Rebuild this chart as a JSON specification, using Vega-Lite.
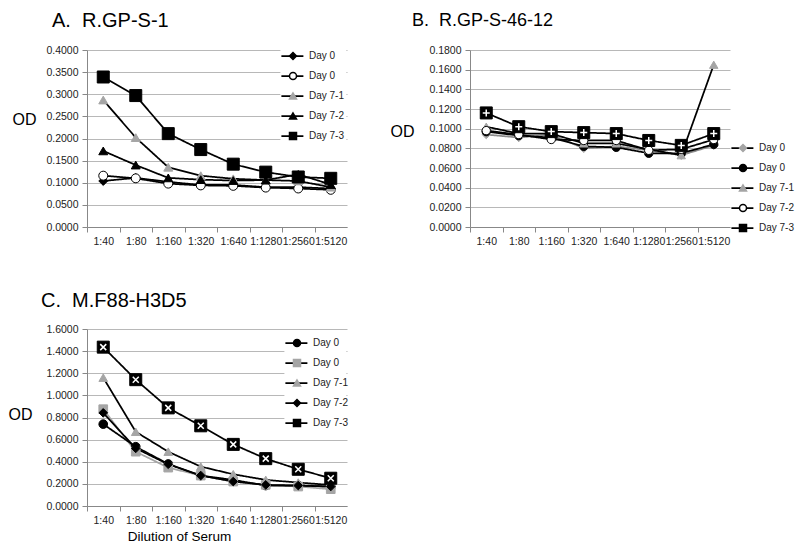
{
  "$schema": "https://vega.github.io/schema/vega-lite/v6.json",
  "padding": {"left": 8, "top": 11, "right": 2, "bottom": 2},
  "config": {
    "view": {"stroke": null},
    "font": "Liberation Sans",
    "title": {"font": "Liberation Sans", "fontWeight": "normal", "anchor": "start", "frame": "group", "baseline": "alphabetic", "color": "#000"},
    "axis": {"labelFont": "Liberation Sans", "labelFontSize": 10.5, "labelColor": "#222", "domainColor": "#888", "tickColor": "#888", "gridColor": "#b8b8b8", "titleFont": "Liberation Sans", "titleFontWeight": "normal", "titleColor": "#000"},
    "axisX": {"grid": false, "tickSize": 5, "labelPadding": 4, "labelAngle": 0, "labelOverlap": false, "labelFlush": false, "labelBound": false, "tickOffset": -16.25, "labelOffset": 16.25},
    "axisY": {"grid": true, "tickSize": 5, "labelPadding": 4, "titleAngle": 0, "titleAlign": "right", "titleBaseline": "middle", "titleFontSize": 16, "format": ".4f"},
    "legend": {"labelFont": "Liberation Sans", "labelFontSize": 10, "labelColor": "#222", "symbolSize": 49, "symbolStrokeWidth": 1.5, "labelOffset": 11, "rowPadding": 0, "clipHeight": 20, "padding": 0}
  },
  "data": {"values": [
    {"p":"A","s":"Day 0","d":"1:40","v":0.104},{"p":"A","s":"Day 0","d":"1:80","v":0.111},{"p":"A","s":"Day 0","d":"1:160","v":0.102},{"p":"A","s":"Day 0","d":"1:320","v":0.095},{"p":"A","s":"Day 0","d":"1:640","v":0.095},{"p":"A","s":"Day 0","d":"1:1280","v":0.090},{"p":"A","s":"Day 0","d":"1:2560","v":0.090},{"p":"A","s":"Day 0","d":"1:5120","v":0.087},
    {"p":"A","s":"Day 0 (2)","d":"1:40","v":0.116},{"p":"A","s":"Day 0 (2)","d":"1:80","v":0.110},{"p":"A","s":"Day 0 (2)","d":"1:160","v":0.098},{"p":"A","s":"Day 0 (2)","d":"1:320","v":0.094},{"p":"A","s":"Day 0 (2)","d":"1:640","v":0.093},{"p":"A","s":"Day 0 (2)","d":"1:1280","v":0.089},{"p":"A","s":"Day 0 (2)","d":"1:2560","v":0.087},{"p":"A","s":"Day 0 (2)","d":"1:5120","v":0.084},
    {"p":"A","s":"Day 7-1","d":"1:40","v":0.287},{"p":"A","s":"Day 7-1","d":"1:80","v":0.202},{"p":"A","s":"Day 7-1","d":"1:160","v":0.135},{"p":"A","s":"Day 7-1","d":"1:320","v":0.116},{"p":"A","s":"Day 7-1","d":"1:640","v":0.109},{"p":"A","s":"Day 7-1","d":"1:1280","v":0.106},{"p":"A","s":"Day 7-1","d":"1:2560","v":0.104},{"p":"A","s":"Day 7-1","d":"1:5120","v":0.090},
    {"p":"A","s":"Day 7-2","d":"1:40","v":0.172},{"p":"A","s":"Day 7-2","d":"1:80","v":0.140},{"p":"A","s":"Day 7-2","d":"1:160","v":0.111},{"p":"A","s":"Day 7-2","d":"1:320","v":0.107},{"p":"A","s":"Day 7-2","d":"1:640","v":0.105},{"p":"A","s":"Day 7-2","d":"1:1280","v":0.106},{"p":"A","s":"Day 7-2","d":"1:2560","v":0.119},{"p":"A","s":"Day 7-2","d":"1:5120","v":0.096},
    {"p":"A","s":"Day 7-3","d":"1:40","v":0.339},{"p":"A","s":"Day 7-3","d":"1:80","v":0.297},{"p":"A","s":"Day 7-3","d":"1:160","v":0.211},{"p":"A","s":"Day 7-3","d":"1:320","v":0.175},{"p":"A","s":"Day 7-3","d":"1:640","v":0.142},{"p":"A","s":"Day 7-3","d":"1:1280","v":0.124},{"p":"A","s":"Day 7-3","d":"1:2560","v":0.113},{"p":"A","s":"Day 7-3","d":"1:5120","v":0.110},
    {"p":"B","s":"Day 0","d":"1:40","v":0.094},{"p":"B","s":"Day 0","d":"1:80","v":0.091},{"p":"B","s":"Day 0","d":"1:160","v":0.094},{"p":"B","s":"Day 0","d":"1:320","v":0.080},{"p":"B","s":"Day 0","d":"1:640","v":0.082},{"p":"B","s":"Day 0","d":"1:1280","v":0.078},{"p":"B","s":"Day 0","d":"1:2560","v":0.073},{"p":"B","s":"Day 0","d":"1:5120","v":0.083},
    {"p":"B","s":"Day 0 (2)","d":"1:40","v":0.097},{"p":"B","s":"Day 0 (2)","d":"1:80","v":0.093},{"p":"B","s":"Day 0 (2)","d":"1:160","v":0.091},{"p":"B","s":"Day 0 (2)","d":"1:320","v":0.082},{"p":"B","s":"Day 0 (2)","d":"1:640","v":0.081},{"p":"B","s":"Day 0 (2)","d":"1:1280","v":0.075},{"p":"B","s":"Day 0 (2)","d":"1:2560","v":0.075},{"p":"B","s":"Day 0 (2)","d":"1:5120","v":0.084},
    {"p":"B","s":"Day 7-1","d":"1:40","v":0.102},{"p":"B","s":"Day 7-1","d":"1:80","v":0.095},{"p":"B","s":"Day 7-1","d":"1:160","v":0.095},{"p":"B","s":"Day 7-1","d":"1:320","v":0.085},{"p":"B","s":"Day 7-1","d":"1:640","v":0.085},{"p":"B","s":"Day 7-1","d":"1:1280","v":0.079},{"p":"B","s":"Day 7-1","d":"1:2560","v":0.073},{"p":"B","s":"Day 7-1","d":"1:5120","v":0.165},
    {"p":"B","s":"Day 7-2","d":"1:40","v":0.098},{"p":"B","s":"Day 7-2","d":"1:80","v":0.094},{"p":"B","s":"Day 7-2","d":"1:160","v":0.089},{"p":"B","s":"Day 7-2","d":"1:320","v":0.088},{"p":"B","s":"Day 7-2","d":"1:640","v":0.088},{"p":"B","s":"Day 7-2","d":"1:1280","v":0.078},{"p":"B","s":"Day 7-2","d":"1:2560","v":0.079},{"p":"B","s":"Day 7-2","d":"1:5120","v":0.089},
    {"p":"B","s":"Day 7-3","d":"1:40","v":0.116},{"p":"B","s":"Day 7-3","d":"1:80","v":0.102},{"p":"B","s":"Day 7-3","d":"1:160","v":0.097},{"p":"B","s":"Day 7-3","d":"1:320","v":0.096},{"p":"B","s":"Day 7-3","d":"1:640","v":0.095},{"p":"B","s":"Day 7-3","d":"1:1280","v":0.088},{"p":"B","s":"Day 7-3","d":"1:2560","v":0.083},{"p":"B","s":"Day 7-3","d":"1:5120","v":0.095},
    {"p":"C","s":"Day 0","d":"1:40","v":0.740},{"p":"C","s":"Day 0","d":"1:80","v":0.536},{"p":"C","s":"Day 0","d":"1:160","v":0.380},{"p":"C","s":"Day 0","d":"1:320","v":0.275},{"p":"C","s":"Day 0","d":"1:640","v":0.236},{"p":"C","s":"Day 0","d":"1:1280","v":0.185},{"p":"C","s":"Day 0","d":"1:2560","v":0.185},{"p":"C","s":"Day 0","d":"1:5120","v":0.175},
    {"p":"C","s":"Day 0 (2)","d":"1:40","v":0.875},{"p":"C","s":"Day 0 (2)","d":"1:80","v":0.491},{"p":"C","s":"Day 0 (2)","d":"1:160","v":0.347},{"p":"C","s":"Day 0 (2)","d":"1:320","v":0.275},{"p":"C","s":"Day 0 (2)","d":"1:640","v":0.221},{"p":"C","s":"Day 0 (2)","d":"1:1280","v":0.191},{"p":"C","s":"Day 0 (2)","d":"1:2560","v":0.176},{"p":"C","s":"Day 0 (2)","d":"1:5120","v":0.152},
    {"p":"C","s":"Day 7-1","d":"1:40","v":1.160},{"p":"C","s":"Day 7-1","d":"1:80","v":0.671},{"p":"C","s":"Day 7-1","d":"1:160","v":0.491},{"p":"C","s":"Day 7-1","d":"1:320","v":0.356},{"p":"C","s":"Day 7-1","d":"1:640","v":0.287},{"p":"C","s":"Day 7-1","d":"1:1280","v":0.236},{"p":"C","s":"Day 7-1","d":"1:2560","v":0.212},{"p":"C","s":"Day 7-1","d":"1:5120","v":0.190},
    {"p":"C","s":"Day 7-2","d":"1:40","v":0.842},{"p":"C","s":"Day 7-2","d":"1:80","v":0.521},{"p":"C","s":"Day 7-2","d":"1:160","v":0.377},{"p":"C","s":"Day 7-2","d":"1:320","v":0.275},{"p":"C","s":"Day 7-2","d":"1:640","v":0.221},{"p":"C","s":"Day 7-2","d":"1:1280","v":0.191},{"p":"C","s":"Day 7-2","d":"1:2560","v":0.185},{"p":"C","s":"Day 7-2","d":"1:5120","v":0.176},
    {"p":"C","s":"Day 7-3","d":"1:40","v":1.436},{"p":"C","s":"Day 7-3","d":"1:80","v":1.142},{"p":"C","s":"Day 7-3","d":"1:160","v":0.887},{"p":"C","s":"Day 7-3","d":"1:320","v":0.725},{"p":"C","s":"Day 7-3","d":"1:640","v":0.557},{"p":"C","s":"Day 7-3","d":"1:1280","v":0.428},{"p":"C","s":"Day 7-3","d":"1:2560","v":0.332},{"p":"C","s":"Day 7-3","d":"1:5120","v":0.251}
  ]},
  "spacing": 44,
  "resolve": {"scale": {"fill": "independent", "stroke": "independent", "shape": "independent", "strokeDash": "independent"}, "legend": {"fill": "independent", "stroke": "independent", "shape": "independent", "strokeDash": "independent"}},
  "vconcat": [
    {
      "spacing": 43,
      "resolve": {"scale": {"fill": "independent", "stroke": "independent", "shape": "independent", "strokeDash": "independent"}, "legend": {"fill": "independent", "stroke": "independent", "shape": "independent", "strokeDash": "independent"}},
      "hconcat": [
        {
          "width": 260, "height": 177,
          "title": {"text": "A.\u00a0\u00a0R.GP-S-1", "fontSize": 20, "dx": -35, "offset": 14},
          "transform": [{"filter": "datum.p == 'A'"}],
          "encoding": {
            "x": {"field": "d", "type": "ordinal", "sort": ["1:40","1:80","1:160","1:320","1:640","1:1280","1:2560","1:5120"], "scale": {"type": "point", "padding": 0.5}, "axis": {"title": null}},
            "y": {"field": "v", "type": "quantitative", "scale": {"domain": [0, 0.4]}, "axis": {"values": [0,0.05,0.1,0.15,0.2,0.25,0.3,0.35,0.4], "title": "OD", "titleX": -51, "titleY": 69}}
          },
          "layer": [
            {"mark": {"type": "line", "strokeWidth": 1.75, "color": "#000"},
             "encoding": {"detail": {"field": "s", "type": "nominal"},
               "strokeDash": {"field": "s", "type": "nominal", "scale": {"domain": ["Day 0","Day 0 (2)","Day 7-1","Day 7-2","Day 7-3","~"], "range": [[1,0],[1,0],[1,0],[1,0],[1,0],[1,0]]},
                 "legend": {"title": null, "orient": "none", "legendX": 193.4, "legendY": -4, "values": ["Day 0","Day 0 (2)","Day 7-1","Day 7-2","Day 7-3"], "symbolType": "stroke", "symbolSize": 484, "symbolStrokeColor": "#000", "symbolStrokeWidth": 1.75, "labelExpr": "''", "labelOffset": 42, "fillColor": "#fff"}}}},
            {"mark": {"type": "point", "filled": true, "opacity": 1, "strokeWidth": 1, "size": 80},
             "transform": [{"filter": "datum.s != 'Day 7-3'"}],
             "encoding": {
               "shape": {"field": "s", "type": "nominal", "scale": {"domain": ["Day 0","Day 0 (2)","Day 7-1","Day 7-2","Day 7-3"], "range": ["diamond","circle","triangle-up","triangle-up","square"]},
                 "legend": {"title": null, "orient": "none", "legendX": 201, "legendY": -4, "labelExpr": "replace(datum.label, ' (2)', '')"}},
               "fill": {"field": "s", "type": "nominal", "scale": {"domain": ["Day 0","Day 0 (2)","Day 7-1","Day 7-2","Day 7-3"], "range": ["#000","#fff","#a5a5a5","#000","#000"]}, "legend": {"title": null}},
               "stroke": {"field": "s", "type": "nominal", "scale": {"domain": ["Day 0","Day 0 (2)","Day 7-1","Day 7-2","Day 7-3"], "range": ["#000","#000","#a5a5a5","#000","#000"]}, "legend": {"title": null}}
             }},
            {"mark": {"type": "point", "filled": true, "opacity": 1, "strokeWidth": 1, "size": 144},
             "transform": [{"filter": "datum.s == 'Day 7-3'"}],
             "encoding": {
               "shape": {"field": "s", "type": "nominal"},
               "fill": {"field": "s", "type": "nominal"},
               "stroke": {"field": "s", "type": "nominal"}
             }}
          ]
        },
        {
          "width": 260, "height": 177,
          "title": {"text": "B.\u00a0\u00a0R.GP-S-46-12", "fontSize": 18, "dx": -58, "offset": 15},
          "transform": [{"filter": "datum.p == 'B'"}],
          "encoding": {
            "x": {"field": "d", "type": "ordinal", "sort": ["1:40","1:80","1:160","1:320","1:640","1:1280","1:2560","1:5120"], "scale": {"type": "point", "padding": 0.5}, "axis": {"title": null}},
            "y": {"field": "v", "type": "quantitative", "scale": {"domain": [0, 0.18]}, "axis": {"values": [0,0.02,0.04,0.06,0.08,0.1,0.12,0.14,0.16,0.18], "title": "OD", "titleX": -56, "titleY": 81}}
          },
          "layer": [
            {"mark": {"type": "line", "strokeWidth": 1.75, "color": "#8c8c8c"},
             "transform": [{"filter": "datum.s == 'Day 0'"}],
             "encoding": {"detail": {"field": "s", "type": "nominal"},
               "strokeDash": {"field": "s", "type": "nominal", "scale": {"domain": ["Day 0","Day 0 (2)","Day 7-1","Day 7-2","Day 7-3","~"], "range": [[1,0],[1,0],[1,0],[1,0],[1,0],[1,0]]},
                 "legend": {"title": null, "orient": "none", "legendX": 260.4, "legendY": 88, "values": ["Day 0","Day 0 (2)","Day 7-1","Day 7-2","Day 7-3"], "symbolType": "stroke", "symbolSize": 484, "symbolStrokeColor": "#000", "symbolStrokeWidth": 1.75, "labelExpr": "''", "labelOffset": 10}}}},
            {"mark": {"type": "line", "strokeWidth": 1.75, "color": "#000"},
             "transform": [{"filter": "datum.s != 'Day 0'"}],
             "encoding": {"detail": {"field": "s", "type": "nominal"},
               "strokeDash": {"field": "s", "type": "nominal"}}},
            {"mark": {"type": "point", "filled": true, "opacity": 1, "strokeWidth": 1, "size": 70},
             "transform": [{"filter": "datum.s != 'Day 7-3'"}],
             "encoding": {
               "shape": {"field": "s", "type": "nominal", "scale": {"domain": ["Day 0","Day 0 (2)","Day 7-1","Day 7-2","Day 7-3"], "range": ["diamond","circle","triangle-up","circle","square"]},
                 "legend": {"title": null, "orient": "none", "legendX": 268, "legendY": 88, "labelExpr": "replace(datum.label, ' (2)', '')"}},
               "fill": {"field": "s", "type": "nominal", "scale": {"domain": ["Day 0","Day 0 (2)","Day 7-1","Day 7-2","Day 7-3"], "range": ["#a5a5a5","#000","#a5a5a5","#fff","#000"]}, "legend": {"title": null}},
               "stroke": {"field": "s", "type": "nominal", "scale": {"domain": ["Day 0","Day 0 (2)","Day 7-1","Day 7-2","Day 7-3"], "range": ["#a5a5a5","#000","#a5a5a5","#000","#000"]}, "legend": {"title": null}}
             }},
            {"mark": {"type": "point", "filled": true, "opacity": 1, "strokeWidth": 1, "size": 144},
             "transform": [{"filter": "datum.s == 'Day 7-3'"}],
             "encoding": {
               "shape": {"field": "s", "type": "nominal"},
               "fill": {"field": "s", "type": "nominal"},
               "stroke": {"field": "s", "type": "nominal"}
             }},
            {"mark": {"type": "point", "shape": "M-1,0H1M0,-1V1", "stroke": "#fff", "strokeWidth": 1.5, "size": 49, "filled": false, "opacity": 1},
             "transform": [{"filter": "datum.s == 'Day 7-3'"}],
             "encoding": {}}
          ]
        }
      ]
    },
    {
      "width": 260, "height": 177,
      "title": {"text": "C.\u00a0\u00a0M.F88-H3D5", "fontSize": 20, "dx": -46, "offset": 13},
      "transform": [{"filter": "datum.p == 'C'"}],
      "encoding": {
        "x": {"field": "d", "type": "ordinal", "sort": ["1:40","1:80","1:160","1:320","1:640","1:1280","1:2560","1:5120"], "scale": {"type": "point", "padding": 0.5}, "axis": {"title": "Dilution of Serum", "titleFontSize": 13.5, "titleX": 92, "titlePadding": 4}},
        "y": {"field": "v", "type": "quantitative", "scale": {"domain": [0, 1.6]}, "axis": {"values": [0,0.2,0.4,0.6,0.8,1.0,1.2,1.4,1.6], "title": "OD", "titleX": -55, "titleY": 85}}
      },
      "layer": [
        {"mark": {"type": "line", "strokeWidth": 1.75, "color": "#a5a5a5"},
         "transform": [{"filter": "datum.s == 'Day 0 (2)'"}],
         "encoding": {"detail": {"field": "s", "type": "nominal"},
           "strokeDash": {"field": "s", "type": "nominal", "scale": {"domain": ["Day 0","Day 0 (2)","Day 7-1","Day 7-2","Day 7-3","~"], "range": [[1,0],[1,0],[1,0],[1,0],[1,0],[1,0]]},
             "legend": {"title": null, "orient": "none", "legendX": 197.4, "legendY": 4, "values": ["Day 0","Day 0 (2)","Day 7-1","Day 7-2","Day 7-3"], "symbolType": "stroke", "symbolSize": 484, "symbolStrokeColor": "#000", "symbolStrokeWidth": 1.75, "labelExpr": "''", "labelOffset": 38, "fillColor": "#fff"}}}},
        {"mark": {"type": "line", "strokeWidth": 1.75, "color": "#000"},
         "transform": [{"filter": "datum.s != 'Day 0 (2)'"}],
         "encoding": {"detail": {"field": "s", "type": "nominal"},
           "strokeDash": {"field": "s", "type": "nominal"}}},
        {"mark": {"type": "point", "filled": true, "opacity": 1, "strokeWidth": 1, "size": 75},
         "transform": [{"filter": "datum.s != 'Day 7-3'"}],
         "encoding": {
           "shape": {"field": "s", "type": "nominal", "scale": {"domain": ["Day 0","Day 0 (2)","Day 7-1","Day 7-2","Day 7-3"], "range": ["circle","square","triangle-up","diamond","square"]},
             "legend": {"title": null, "orient": "none", "legendX": 205, "legendY": 4, "labelExpr": "replace(datum.label, ' (2)', '')"}},
           "fill": {"field": "s", "type": "nominal", "scale": {"domain": ["Day 0","Day 0 (2)","Day 7-1","Day 7-2","Day 7-3"], "range": ["#000","#a5a5a5","#a5a5a5","#000","#000"]}, "legend": {"title": null}},
           "stroke": {"field": "s", "type": "nominal", "scale": {"domain": ["Day 0","Day 0 (2)","Day 7-1","Day 7-2","Day 7-3"], "range": ["#000","#a5a5a5","#a5a5a5","#000","#000"]}, "legend": {"title": null}}
         }},
        {"mark": {"type": "point", "filled": true, "opacity": 1, "strokeWidth": 1, "size": 144},
         "transform": [{"filter": "datum.s == 'Day 7-3'"}],
         "encoding": {
           "shape": {"field": "s", "type": "nominal"},
           "fill": {"field": "s", "type": "nominal"},
           "stroke": {"field": "s", "type": "nominal"}
         }},
        {"mark": {"type": "point", "shape": "M-1,-1L1,1M-1,1L1,-1", "stroke": "#fff", "strokeWidth": 1.5, "size": 36, "filled": false, "opacity": 1},
         "transform": [{"filter": "datum.s == 'Day 7-3'"}],
         "encoding": {}}
      ]
    }
  ]
}
